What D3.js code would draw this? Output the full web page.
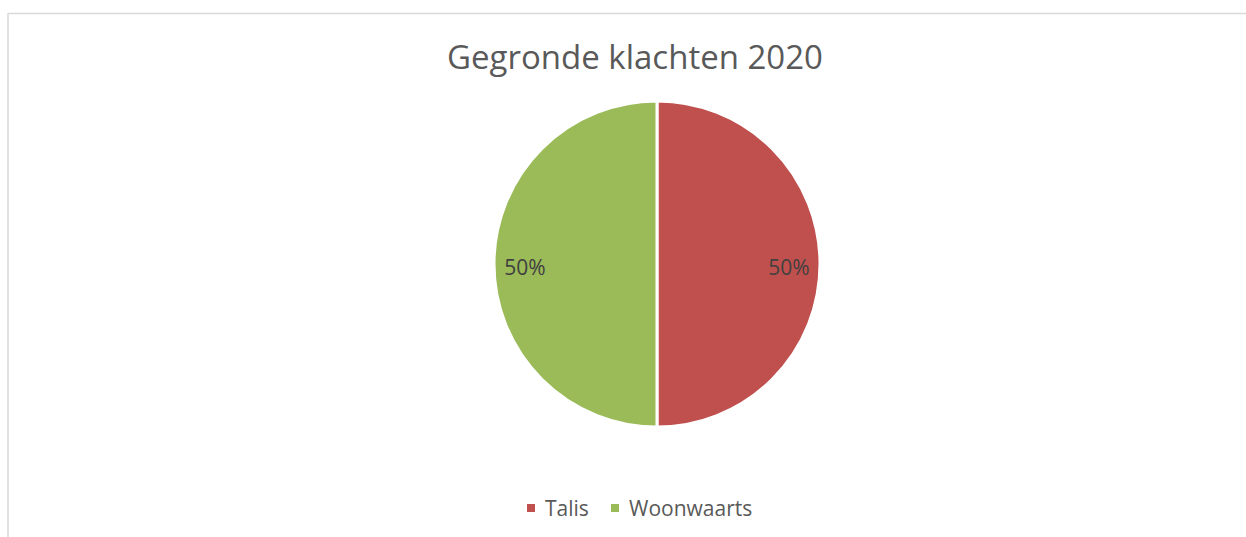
<!DOCTYPE html>
<html><head><meta charset="utf-8">
<script src="https://cdn.jsdelivr.net/npm/d3@7"></script>
<style>body{margin:0;background:#fff}svg{display:block}</style>
</head><body>
<svg id="c" width="1246" height="537"></svg>
<script>
const categories = ["Talis", "Woonwaarts"];
const values = [50, 50];
const colors = ["#C0504D", "#9BBB59"];
const title = "Gegronde klachten 2020";

const svg = d3.select("#c");
const font = "'Open Sans', sans-serif";
// chart border (only top and left visible)
svg.append("line").attr("x1",8).attr("y1",13.5).attr("x2",1246).attr("y2",13.5).attr("stroke","#d9d9d9").attr("stroke-width",1.5);
svg.append("line").attr("x1",8).attr("y1",13).attr("x2",8).attr("y2",537).attr("stroke","#d9d9d9").attr("stroke-width",1.5);

svg.append("text").attr("x",635).attr("y",69).attr("text-anchor","middle")
  .attr("font-family",font).attr("font-size",33).attr("fill","#595959").text(title);

const cx = 657, cy = 264, r = 163;
const total = d3.sum(values);
const pie = d3.pie().sort(null).value(d=>d.v);
const arcs = pie(categories.map((c,i)=>({c, v: values[i], col: colors[i]})));
const arc = d3.arc().innerRadius(0).outerRadius(r);
const g = svg.append("g").attr("transform",`translate(${cx},${cy})`);
g.selectAll("path").data(arcs).join("path").attr("d",arc)
  .attr("fill",d=>d.data.col).attr("stroke","#fff").attr("stroke-width",3).attr("stroke-linejoin","round");
const labelArc = d3.arc().innerRadius(r*0.81).outerRadius(r*0.81);
g.selectAll("text").data(arcs).join("text")
  .attr("transform",d=>{const p=labelArc.centroid(d);return `translate(${p[0]},${p[1]+3})`;})
  .attr("text-anchor","middle").attr("dy","0.36em")
  .attr("font-family",font).attr("font-size",21).attr("fill","#404040")
  .text(d=>Math.round(d.data.v/total*100)+"%");

// legend
const legX = [527, 611];
const lg = svg.append("g");
categories.forEach((c,i)=>{
  lg.append("rect").attr("x",legX[i]).attr("y",504).attr("width",8).attr("height",8).attr("fill",colors[i]);
  lg.append("text").attr("x",legX[i]+18).attr("y",516).attr("font-family",font).attr("font-size",21)
    .attr("fill","#595959").text(c);
});
</script>
</body></html>
